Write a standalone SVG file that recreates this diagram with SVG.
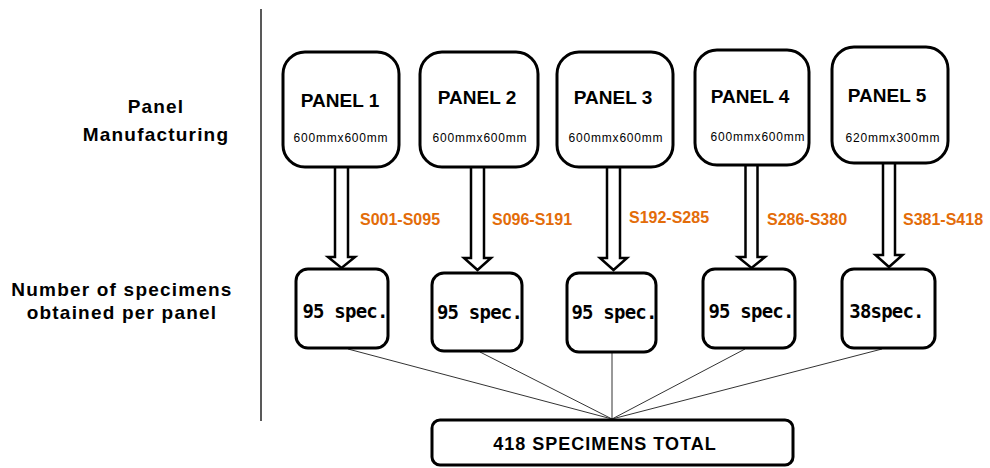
<svg xmlns="http://www.w3.org/2000/svg" width="990" height="468" viewBox="0 0 990 468">
<style>
.box{fill:#fff;stroke:#000;stroke-width:3}
.arrow{fill:#fff;stroke:#000;stroke-width:2.5;stroke-linejoin:miter}
.fan{stroke:#333;stroke-width:1;fill:none}
.ttl{font-family:"Liberation Sans",Arial,sans-serif;font-weight:bold;font-size:19px;fill:#000;text-anchor:middle}
.dim{font-family:"Liberation Sans",Arial,sans-serif;font-size:12px;letter-spacing:0.8px;fill:#000;text-anchor:middle}
.spec{font-family:"DejaVu Sans Mono","Liberation Mono",monospace;font-weight:bold;font-size:19px;letter-spacing:-0.8px;fill:#000;text-anchor:middle}
.rng{font-family:"Liberation Sans",Arial,sans-serif;font-weight:bold;font-size:16px;fill:#E36C09}
.side{font-family:"Liberation Sans",Arial,sans-serif;font-weight:bold;font-size:19px;letter-spacing:1.2px;fill:#000;text-anchor:middle}
.tot{font-family:"Liberation Sans",Arial,sans-serif;font-weight:bold;font-size:18px;letter-spacing:1px;fill:#000;text-anchor:middle}
</style>
<line x1="261" y1="9" x2="261" y2="421" stroke="#222" stroke-width="1.5"/>
<g id="labels">
<text class="side" x="156" y="113">Panel</text>
<text class="side" x="156" y="141">Manufacturing</text>
<text class="side" x="122" y="296">Number of specimens</text>
<text class="side" x="122" y="319">obtained per panel</text>
</g>
<g id="connectors">
<path class="arrow" d="M335,166 L348,166 L348,257 L355,257 L341.5,268 L328,257 L335,257 Z"/>
<path class="arrow" d="M471,166 L484,166 L484,258 L491,258 L477.5,270 L464,258 L471,258 Z"/>
<path class="arrow" d="M607,166 L620,166 L620,258 L627,258 L613.5,270 L600,258 L607,258 Z"/>
<path class="arrow" d="M745.5,164 L757.5,164 L757.5,257 L765,257 L751.5,268 L738,257 L745.5,257 Z"/>
<path class="arrow" d="M883,162 L895,162 L895,255 L902.5,255 L889,267 L875.5,255 L883,255 Z"/>
<line class="fan" x1="348" y1="349" x2="612" y2="419"/>
<line class="fan" x1="480" y1="352" x2="612" y2="419"/>
<line class="fan" x1="612" y1="352" x2="612" y2="419"/>
<line class="fan" x1="745" y1="349" x2="612" y2="419"/>
<line class="fan" x1="882" y1="349" x2="612" y2="419"/>
<text class="rng" x="360" y="225">S001-S095</text>
<text class="rng" x="492" y="225">S096-S191</text>
<text class="rng" x="629" y="223">S192-S285</text>
<text class="rng" x="767" y="225">S286-S380</text>
<text class="rng" x="903" y="225">S381-S418</text>
</g>
<g id="panel1">
<rect class="box" x="283" y="52" width="116" height="115" rx="22"/>
<text class="ttl" x="340" y="107">PANEL 1</text>
<text class="dim" x="341" y="142">600mmx600mm</text>
</g>
<g id="panel2">
<rect class="box" x="420" y="52" width="118" height="115" rx="22"/>
<text class="ttl" x="477" y="104">PANEL 2</text>
<text class="dim" x="480" y="142">600mmx600mm</text>
</g>
<g id="panel3">
<rect class="box" x="557" y="52" width="116" height="115" rx="22"/>
<text class="ttl" x="613" y="104">PANEL 3</text>
<text class="dim" x="616" y="142">600mmx600mm</text>
</g>
<g id="panel4">
<rect class="box" x="695" y="50" width="114" height="115" rx="22"/>
<text class="ttl" x="750" y="103">PANEL 4</text>
<text class="dim" x="758" y="141">600mmx600mm</text>
</g>
<g id="panel5">
<rect class="box" x="832" y="47" width="116" height="116" rx="22"/>
<text class="ttl" x="887" y="102">PANEL 5</text>
<text class="dim" x="893" y="142">620mmx300mm</text>
</g>
<g id="spec1">
<rect class="box" x="296" y="269" width="92" height="79" rx="12"/>
<text class="spec" x="345" y="318">95 spec.</text>
</g>
<g id="spec2">
<rect class="box" x="432" y="273" width="90" height="78" rx="12"/>
<text class="spec" x="479.5" y="319">95 spec.</text>
</g>
<g id="spec3">
<rect class="box" x="567" y="273" width="89" height="79" rx="12"/>
<text class="spec" x="614" y="319">95 spec.</text>
</g>
<g id="spec4">
<rect class="box" x="703" y="269" width="92" height="79" rx="12"/>
<text class="spec" x="751" y="318">95 spec.</text>
</g>
<g id="spec5">
<rect class="box" x="842" y="269" width="93" height="79" rx="12"/>
<text class="spec" x="886.5" y="318">38spec.</text>
</g>
<g id="total">
<rect class="box" x="432" y="420" width="361" height="45" rx="8"/>
<text class="tot" x="605" y="450">418 SPECIMENS TOTAL</text>
</g>
</svg>
